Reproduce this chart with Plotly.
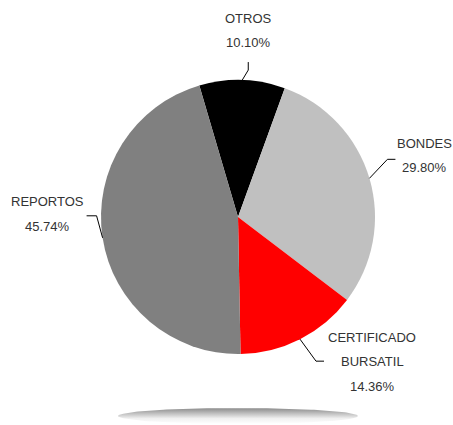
import math
import numpy as np
import plotly.graph_objects as go

# ---- data ----
categories = ["OTROS", "BONDES", "CERTIFICADO BURSATIL", "REPORTOS"]
label_lines = [["OTROS"], ["BONDES"], ["CERTIFICADO", "BURSATIL"], ["REPORTOS"]]
values = [10.10, 29.80, 14.36, 45.74]
colors = ["#000000", "#c0c0c0", "#ff0000", "#808080"]

# ---- layout / style ----
W, H = 453, 425
CX, CY, R = 238, 217, 137
ROTATION = -16.4
FONT = "Liberation Sans Narrow, Arial Narrow, Liberation Sans, Arial, sans-serif"
TEXT_COLOR = "#333333"
FONT_SIZE = 13
LINE_GAP = 24.5
# leader line: first segment, second segment, text offset (from line end)
seg1 = [(6, -10), (18, -19), (16, 22), (-6, -22)]
seg2 = [(0, -8), (8, 0), (8, 0), (-10, 0)]
text_off = [(0, -44), (29, -16), (48, -24), (-39, -14)]

fig = go.Figure()

# shadow ellipse under the pie
t = np.linspace(0, 2 * math.pi, 200)
fig.add_trace(go.Scatter(
    x=CX + 120 * np.cos(t), y=416 + 8 * np.sin(t),
    mode="lines", line=dict(width=0), fill="toself",
    fillgradient=dict(type="vertical",
                      colorscale=[[0, "#ffffff"], [0.35, "#f0f0f0"], [1, "#8c8c8c"]]),
    hoverinfo="skip", showlegend=False,
))

fig.add_trace(go.Pie(
    labels=categories, values=values, sort=False, direction="clockwise",
    rotation=ROTATION, marker=dict(colors=colors, line=dict(width=0)),
    textinfo="none", hoverinfo="label+percent", showlegend=False,
    domain=dict(x=[(CX - R) / W, (CX + R) / W], y=[1 - (CY + R) / H, 1 - (CY - R) / H]),
))

total = sum(values)
cum = 0.0
for i, v in enumerate(values):
    mid = ROTATION + 360 * (cum + v / 2) / total
    cum += v
    a = math.radians(mid)
    ex, ey = CX + R * math.sin(a), CY - R * math.cos(a)
    bx, by = ex + seg1[i][0], ey + seg1[i][1]
    qx, qy = bx + seg2[i][0], by + seg2[i][1]
    fig.add_shape(type="path", xref="x", yref="y",
                  path=f"M{ex},{ey} L{bx},{by} L{qx},{qy}",
                  line=dict(color="#000000", width=1))
    lines = label_lines[i] + [f"{v:.2f}%"]
    tx, ty = qx + text_off[i][0], qy + text_off[i][1]
    for j, s in enumerate(lines):
        fig.add_annotation(x=tx, y=ty + j * LINE_GAP, xref="x", yref="y",
                           text=s, showarrow=False, xanchor="center", yanchor="middle",
                           font=dict(family=FONT, size=FONT_SIZE, color=TEXT_COLOR))

fig.update_layout(
    width=W, height=H, margin=dict(l=0, r=0, t=0, b=0),
    paper_bgcolor="white", plot_bgcolor="white",
    xaxis=dict(range=[0, W], visible=False, fixedrange=True),
    yaxis=dict(range=[H, 0], visible=False, fixedrange=True),
)
fig.write_html("out.html")
